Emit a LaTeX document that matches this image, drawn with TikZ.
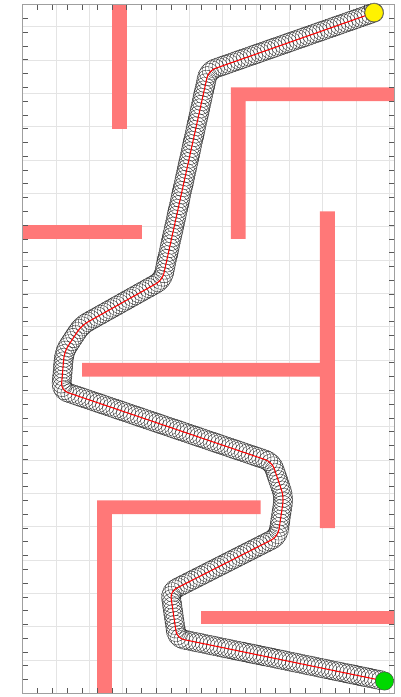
\documentclass[tikz,border=0pt]{standalone}
\usepackage{tikz}
\usetikzlibrary{decorations.markings}

\definecolor{wallred}{RGB}{255,120,120}
\definecolor{gridgray}{RGB}{228,228,228}

\begin{document}
\begin{tikzpicture}[
            x=0.4458cm, y=0.4131cm,
            gridline/.style={draw=gridgray, line width=0.45pt},
            wall/.style={fill=wallred, draw=none},
            frame/.style={draw=gray!75, line width=0.6pt},
            tick/.style={draw=gray!70!black, line width=0.5pt},
            footprint/.style={draw=black!85, line width=0.3pt},
            robot/.style={postaction={decorate, decoration={markings,
                mark=between positions 0 and 1 step 0.11cm with {\draw[footprint] (0,0) circle (0.29cm);}}}},
            route/.style={draw=red, line width=0.9pt, rounded corners=6pt},
            endpoint/.style={draw=black!70, circle, minimum size=0.55cm, inner sep=0pt, line width=0.4pt}
        ]
            \useasboundingbox (-1.528,-0.27) rectangle (25.45,50.34);

            % Grid
            \draw[gridline] (0,0) grid (25,50);

            % Walls
            \fill[wall] (6,41) rectangle (7,50);
            \fill[wall] (14,33) -- (15,33) -- (15,43) -- (25,43) -- (25,44) -- (14,44) -- cycle;
            \fill[wall] (0,33) rectangle (8,34);
            \fill[wall] (20,12) -- (21,12) -- (21,35) -- (20,35) -- (20,24) -- (4,24) -- (4,23) -- (20,23) -- cycle;
            \fill[wall] (5,0) -- (6,0) -- (6,13) -- (16,13) -- (16,14) -- (5,14) -- cycle;
            \fill[wall] (12,5) rectangle (25,6);

            % Frame and ticks
            \draw[frame] (0,0) rectangle (25,50);
            \foreach \i in {1,...,24} {
                \draw[tick] (\i,0) -- ++(0,0.17cm);
                \draw[tick] (\i,50) -- ++(0,-0.17cm);
            }
            \foreach \j in {1,...,49} {
                \draw[tick] (0,\j) -- ++(0.17cm,0);
                \draw[tick] (25,\j) -- ++(-0.17cm,0);
            }

            % Waypoints
            \coordinate (s) at (23.64,49.42);
            \coordinate (p1) at (12.5,45.2);
            \coordinate (p2) at (9.4,30.0);
            \coordinate (p3) at (3.95,26.7);
            \coordinate (p4) at (2.8,24.8);
            \coordinate (p5) at (2.58,22.0);
            \coordinate (p6) at (16.77,16.8);
            \coordinate (p7) at (17.57,14.27);
            \coordinate (p8) at (17.17,11.37);
            \coordinate (p9) at (9.92,7.4);
            \coordinate (p10) at (10.38,4.0);
            \coordinate (e) at (24.34,0.89);

            % Footprints and route
            \path[robot, rounded corners=6pt] (s) -- (p1) -- (p2) -- (p3) -- (p4) -- (p5) -- (p6) -- (p7) -- (p8) -- (p9) -- (p10) -- (e);
            \draw[route] (s) -- (p1) -- (p2) -- (p3) -- (p4) -- (p5) -- (p6) -- (p7) -- (p8) -- (p9) -- (p10) -- (e);

            % Start and goal
            \node[endpoint, fill=yellow] (start) at (s) {};
            \node[endpoint, fill=green!85!black] (goal) at (e) {};
        \end{tikzpicture}
\end{document}
